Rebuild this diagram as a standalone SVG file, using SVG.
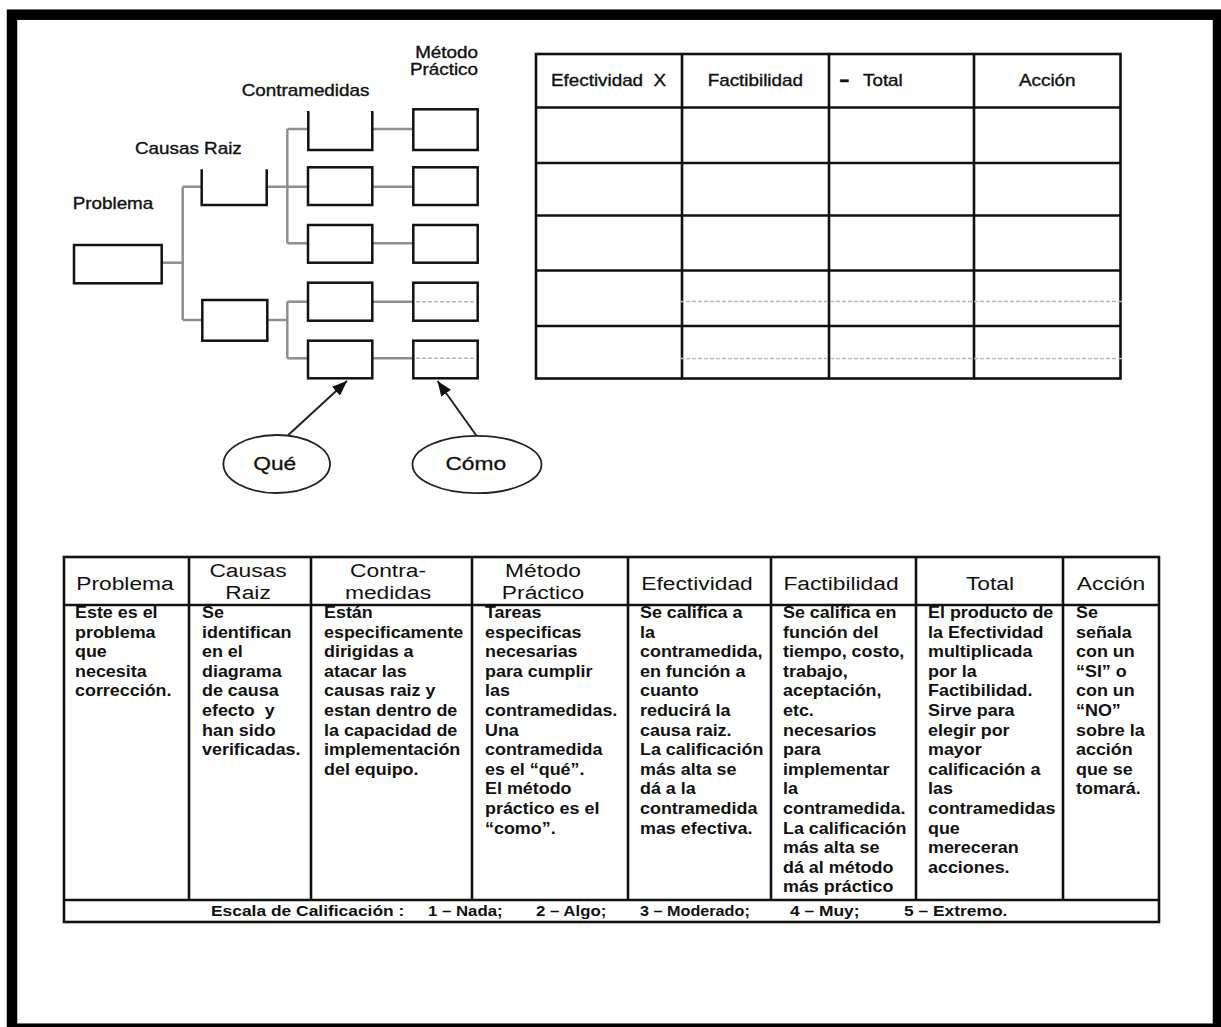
<svg xmlns="http://www.w3.org/2000/svg" width="1221" height="1027" viewBox="0 0 1221 1027">
<style>
text { font-family: "Liberation Sans", Arial, sans-serif; fill: #111; }
.lbl { font-size: 15.7px; stroke: #111; stroke-width: 0.35; }
.hd { font-size: 19px; }
.bd { font-size: 16px; font-weight: bold; }
.ft { font-size: 15px; font-weight: bold; }
.box { fill: #fff; stroke: #111; stroke-width: 2.5; }
.brk { fill: none; stroke: #111; stroke-width: 2.5; }
.conn { fill: none; stroke: #8e8e8e; stroke-width: 2.5; }
.grid { fill: none; stroke: #111; stroke-width: 2.6; }
.dot { fill: none; stroke: #b8b8b8; stroke-width: 1.4; stroke-dasharray: 4 2; }
.arrow { fill: none; stroke: #222; stroke-width: 2; marker-end: url(#ah); }
.ell { fill: #fff; stroke: #222; stroke-width: 1.8; }
</style>
<defs>
<marker id="ah" viewBox="0 0 10 8" refX="10" refY="4" markerWidth="7.5" markerHeight="6" orient="auto">
<path d="M0,0 L10,4 L0,8 z" fill="#111"/>
</marker>
</defs>
<rect width="1221" height="1027" fill="#fff"/>
<rect id="frame" x="12" y="14.7" width="1206" height="1014" fill="none" stroke="#000" stroke-width="10.5"/>

<!-- tree labels -->
<g id="tree-labels" class="lbl">
<text transform="translate(478 0) scale(1.2 1)" text-anchor="end" y="58">Método</text>
<text transform="translate(478 0) scale(1.2 1)" text-anchor="end" y="75.5">Práctico</text>
<text transform="translate(241.7 0) scale(1.2 1)" y="96.5">Contramedidas</text>
<text transform="translate(135 0) scale(1.2 1)" y="154">Causas Raiz</text>
<text transform="translate(72.7 0) scale(1.2 1)" y="209.3">Problema</text>
</g>

<!-- connectors -->
<g id="connectors">
<path class="conn" d="M161.7,262.7 H182.7"/>
<path class="conn" d="M182.7,186.7 V320"/>
<path class="conn" d="M182.7,186.7 H201.7"/>
<path class="conn" d="M182.7,320 H202.3"/>
<path class="conn" d="M266.7,186.7 H308"/>
<path class="conn" d="M287.3,129 V243.3"/>
<path class="conn" d="M287.3,129 H308.3"/>
<path class="conn" d="M287.3,243.3 H308"/>
<path class="conn" d="M267.3,320 H287.3"/>
<path class="conn" d="M287.3,301.7 V358.3"/>
<path class="conn" d="M287.3,301.7 H308"/>
<path class="conn" d="M287.3,358.3 H308"/>
<path class="conn" d="M372.3,129 H413.3"/>
<path class="conn" d="M372.3,186.7 H413.3"/>
<path class="conn" d="M372.3,243.3 H413.3"/>
<path class="conn" d="M372.3,301.7 H413.3"/>
<path class="conn" d="M372.3,358.3 H413.3" stroke="#555" stroke-width="2"/>
<path class="arrow" d="M288.3,435 L347,381"/>
<path class="arrow" d="M476.7,436 L437.5,381"/>
</g>

<!-- nodes -->
<g id="problema"><rect class="box" x="74" y="245" width="87.7" height="38.3"/></g>
<g id="causa-1"><path class="brk" d="M201.7,169.3 V205 H266.7 V169.3"/></g>
<g id="causa-2"><rect class="box" x="202.3" y="300" width="65" height="40.7"/></g>
<g id="contra-1"><path class="brk" d="M308.3,111 V150 H372.3 V111"/></g>
<g id="contra-2"><rect class="box" x="308" y="167.3" width="64.3" height="37.7"/></g>
<g id="contra-3"><rect class="box" x="308" y="225" width="64.3" height="37.7"/></g>
<g id="contra-4"><rect class="box" x="308" y="282.7" width="64.3" height="38"/></g>
<g id="contra-5"><rect class="box" x="308" y="340.7" width="64.3" height="37.6"/></g>
<g id="metodo-1"><rect class="box" x="413.3" y="109.3" width="64.4" height="40.7"/></g>
<g id="metodo-2"><rect class="box" x="413.3" y="167.3" width="64.4" height="37.7"/></g>
<g id="metodo-3"><rect class="box" x="413.3" y="225" width="64.4" height="37.7"/></g>
<g id="metodo-4"><rect class="box" x="413.3" y="282.7" width="64.4" height="38"/></g>
<g id="metodo-5"><rect class="box" x="413.3" y="340.7" width="64.4" height="37.6"/></g>
<g id="que">
<ellipse class="ell" cx="276.7" cy="464" rx="53.3" ry="29"/>
<text class="hd" transform="translate(274.7 0) scale(1.2 1)" text-anchor="middle" y="470" stroke="#111" stroke-width="0.3">Qué</text>
</g>
<g id="como">
<ellipse class="ell" cx="477" cy="464.5" rx="64.5" ry="28.7"/>
<text class="hd" transform="translate(475.8 0) scale(1.2 1)" text-anchor="middle" y="470" stroke="#111" stroke-width="0.3">Cómo</text>
</g>

<!-- top right table -->
<g id="score-table">
<rect class="grid" x="536" y="54" width="584.5" height="324.5"/>
<path class="grid" d="M682,54 V378.5 M829,54 V378.5 M974,54 V378.5"/>
<path class="grid" d="M536,107.5 H1120.5 M536,163 H1120.5 M536,215.5 H1120.5 M536,270.5 H1120.5 M536,326 H1120.5"/>
<g class="lbl">
<text transform="translate(551 0) scale(1.2 1)" y="86">Efectividad&#160;&#160;X</text>
<text transform="translate(707.7 0) scale(1.2 1)" y="86">Factibilidad</text>
<text transform="translate(839 0) scale(1.6 1)" y="86" font-weight="bold" font-size="20">-</text>
<text transform="translate(863 0) scale(1.2 1)" y="86">Total</text>
<text transform="translate(1019 0) scale(1.2 1)" y="86">Acción</text>
</g>
</g>

<!-- dotted guide lines -->
<g id="dotted">
<path class="dot" d="M416,301.7 H476 M416,358.3 H476"/>
<path class="dot" d="M680,301.5 H1124 M680,358.5 H1124"/>
</g>

<!-- bottom table -->
<g id="legend-table">
<rect class="grid" x="64" y="557" width="1095" height="365"/>
<path class="grid" d="M64,605 H1159 M64,900 H1159"/>
<path class="grid" d="M189,557 V900 M311,557 V900 M472,557 V900 M628,557 V900 M771,557 V900 M916,557 V900 M1063,557 V900"/>
<g class="hd" text-anchor="middle">
<text transform="translate(125 0) scale(1.2 1)" y="590">Problema</text>
<text transform="translate(248 0) scale(1.2 1)"><tspan x="0" y="577">Causas</tspan><tspan x="0" y="599">Raiz</tspan></text>
<text transform="translate(388 0) scale(1.2 1)"><tspan x="0" y="577">Contra-</tspan><tspan x="0" y="599">medidas</tspan></text>
<text transform="translate(543 0) scale(1.2 1)"><tspan x="0" y="577">Método</tspan><tspan x="0" y="599">Práctico</tspan></text>
<text transform="translate(697 0) scale(1.2 1)" y="590">Efectividad</text>
<text transform="translate(841 0) scale(1.2 1)" y="590">Factibilidad</text>
<text transform="translate(990 0) scale(1.2 1)" y="590">Total</text>
<text transform="translate(1111 0) scale(1.2 1)" y="590">Acción</text>
</g>
<g class="bd">
<text transform="translate(75 0) scale(1.12 1)"><tspan x="0" y="618">Este es el</tspan><tspan x="0" y="637.6">problema</tspan><tspan x="0" y="657.2">que</tspan><tspan x="0" y="676.8">necesita</tspan><tspan x="0" y="696.4">corrección.</tspan></text>
<text transform="translate(202 0) scale(1.12 1)"><tspan x="0" y="618">Se</tspan><tspan x="0" y="637.6">identifican</tspan><tspan x="0" y="657.2">en el</tspan><tspan x="0" y="676.8">diagrama</tspan><tspan x="0" y="696.4">de causa</tspan><tspan x="0" y="716">efecto&#160; y</tspan><tspan x="0" y="735.6">han sido</tspan><tspan x="0" y="755.2">verificadas.</tspan></text>
<text transform="translate(324 0) scale(1.12 1)"><tspan x="0" y="618">Están</tspan><tspan x="0" y="637.6">especificamente</tspan><tspan x="0" y="657.2">dirigidas a</tspan><tspan x="0" y="676.8">atacar las</tspan><tspan x="0" y="696.4">causas raiz y</tspan><tspan x="0" y="716">estan dentro de</tspan><tspan x="0" y="735.6">la capacidad de</tspan><tspan x="0" y="755.2">implementación</tspan><tspan x="0" y="774.8">del equipo.</tspan></text>
<text transform="translate(485 0) scale(1.12 1)"><tspan x="0" y="618">Tareas</tspan><tspan x="0" y="637.6">especificas</tspan><tspan x="0" y="657.2">necesarias</tspan><tspan x="0" y="676.8">para cumplir</tspan><tspan x="0" y="696.4">las</tspan><tspan x="0" y="716">contramedidas.</tspan><tspan x="0" y="735.6">Una</tspan><tspan x="0" y="755.2">contramedida</tspan><tspan x="0" y="774.8">es el “qué”.</tspan><tspan x="0" y="794.4">El método</tspan><tspan x="0" y="814">práctico es el</tspan><tspan x="0" y="833.6">“como”.</tspan></text>
<text transform="translate(640 0) scale(1.12 1)"><tspan x="0" y="618">Se califica a</tspan><tspan x="0" y="637.6">la</tspan><tspan x="0" y="657.2">contramedida,</tspan><tspan x="0" y="676.8">en función a</tspan><tspan x="0" y="696.4">cuanto</tspan><tspan x="0" y="716">reducirá la</tspan><tspan x="0" y="735.6">causa raiz.</tspan><tspan x="0" y="755.2">La calificación</tspan><tspan x="0" y="774.8">más alta se</tspan><tspan x="0" y="794.4">dá a la</tspan><tspan x="0" y="814">contramedida</tspan><tspan x="0" y="833.6">mas efectiva.</tspan></text>
<text transform="translate(783 0) scale(1.12 1)"><tspan x="0" y="618">Se califica en</tspan><tspan x="0" y="637.6">función del</tspan><tspan x="0" y="657.2">tiempo, costo,</tspan><tspan x="0" y="676.8">trabajo,</tspan><tspan x="0" y="696.4">aceptación,</tspan><tspan x="0" y="716">etc.</tspan><tspan x="0" y="735.6">necesarios</tspan><tspan x="0" y="755.2">para</tspan><tspan x="0" y="774.8">implementar</tspan><tspan x="0" y="794.4">la</tspan><tspan x="0" y="814">contramedida.</tspan><tspan x="0" y="833.6">La calificación</tspan><tspan x="0" y="853.2">más alta se</tspan><tspan x="0" y="872.8">dá al método</tspan><tspan x="0" y="892.4">más práctico</tspan></text>
<text transform="translate(928 0) scale(1.12 1)"><tspan x="0" y="618">El producto de</tspan><tspan x="0" y="637.6">la Efectividad</tspan><tspan x="0" y="657.2">multiplicada</tspan><tspan x="0" y="676.8">por la</tspan><tspan x="0" y="696.4">Factibilidad.</tspan><tspan x="0" y="716">Sirve para</tspan><tspan x="0" y="735.6">elegir por</tspan><tspan x="0" y="755.2">mayor</tspan><tspan x="0" y="774.8">calificación a</tspan><tspan x="0" y="794.4">las</tspan><tspan x="0" y="814">contramedidas</tspan><tspan x="0" y="833.6">que</tspan><tspan x="0" y="853.2">mereceran</tspan><tspan x="0" y="872.8">acciones.</tspan></text>
<text transform="translate(1076 0) scale(1.12 1)"><tspan x="0" y="618">Se</tspan><tspan x="0" y="637.6">señala</tspan><tspan x="0" y="657.2">con un</tspan><tspan x="0" y="676.8">“SI” o</tspan><tspan x="0" y="696.4">con un</tspan><tspan x="0" y="716">“NO”</tspan><tspan x="0" y="735.6">sobre la</tspan><tspan x="0" y="755.2">acción</tspan><tspan x="0" y="774.8">que se</tspan><tspan x="0" y="794.4">tomará.</tspan></text>
</g>
<g class="ft">
<text transform="translate(211 0) scale(1.16 1)" y="916">Escala de Calificación :</text>
<text transform="translate(428 0) scale(1.12 1)" y="916">1 – Nada;</text>
<text transform="translate(536 0) scale(1.12 1)" y="916">2 – Algo;</text>
<text transform="translate(640 0) scale(1.08 1)" y="916">3 – Moderado;</text>
<text transform="translate(790 0) scale(1.16 1)" y="916">4 – Muy;</text>
<text transform="translate(904 0) scale(1.16 1)" y="916">5 – Extremo.</text>
</g>
</g>
</svg>
